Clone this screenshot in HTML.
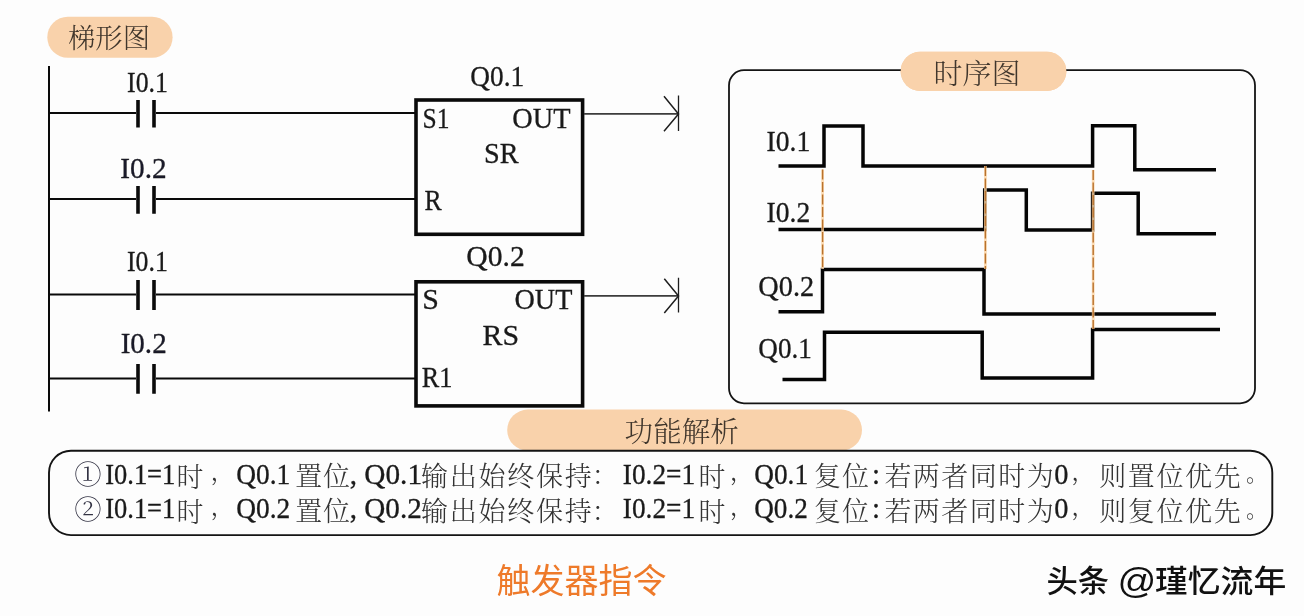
<!DOCTYPE html>
<html lang="zh-CN">
<head>
<meta charset="utf-8">
<title>触发器指令</title>
<style>
html,body{margin:0;padding:0;background:#fdfdfd;}
body{width:1304px;height:616px;overflow:hidden;}
svg{display:block;will-change:transform;}
text{white-space:pre;}
.lt{stroke:#161616;stroke-width:.3px;}
</style>
</head>
<body>
<svg width="1304" height="616" viewBox="0 0 1304 616">
<rect x="0" y="0" width="1304" height="616" fill="#fdfdfd"/>
<g id="pills" fill="#f9d2ab">
<rect x="47.3" y="16.7" width="125.3" height="41.1" rx="20.5"/>
<rect x="900.6" y="51.7" width="165.8" height="39.2" rx="19.6"/>
<rect x="507.2" y="409.6" width="354.8" height="41" rx="20.5"/>
</g>
<g id="ladder" stroke="#0a0a0a" fill="none">
<line x1="49" y1="66" x2="49" y2="411.6" stroke-width="2"/>
<path d="M49,113H136M156,113H415 M49,199H136M156,199H415 M49,294.5H136M156,294.5H415 M49,378.5H136M156,378.5H415" stroke-width="2"/>
<path d="M138,100V127.6M154,100V127.6 M138,186V213.8M154,186V213.8 M138,280V310M154,280V310 M138,364V393.8M154,364V393.8" stroke-width="3.6"/>
<rect x="416" y="100" width="166.6" height="134.3" stroke-width="3.6"/>
<rect x="416" y="281.8" width="166.6" height="124.1" stroke-width="3.6"/>
<g stroke="#3c3c3c" stroke-width="1.7">
<path d="M584,113.9H678.5 M584,295.9H678.5"/>
</g>
<g stroke="#1e1e1e" stroke-width="1.3">
<path d="M678.5,95.5V131 M678.5,277.8V312.6"/>
</g>
<g stroke="#1e1e1e" stroke-width="1.5">
<path d="M664,96.3L678.5,113.9L664,131.3 M664.3,278.7L678.5,295.9L664.3,312.9"/>
</g>
</g>
<g id="timing" fill="none">
<rect x="729" y="70.2" width="526" height="333.1" rx="15" stroke="#141414" stroke-width="1.8"/>
<rect x="900.6" y="51.7" width="165.8" height="39.2" rx="19.6" fill="#f9d2ab"/>
<g stroke="#050505" stroke-width="3.5" stroke-linejoin="miter">
<path d="M778.5,166H824V126H863V166H1092.6V125.7H1134.8V169.8H1216"/>
<path d="M778.5,229.5H984.7V190H1026.3V230H1092.6V193.3H1138.2V233.7H1216"/>
<path d="M778.5,311.8H822.5V269.6H984V314H1216"/>
<path d="M782.5,379.6H824.5V332.2H982.2V378H1092.6V329.6H1220"/>
</g>
<g stroke="#fbd2a0" stroke-width="2.8" stroke-opacity=".8">
<path d="M822.6,169.5V269 M985.4,166V269 M1093.2,170V329"/>
</g>
<g stroke="#b8722e" stroke-width="1.4" stroke-dasharray="10 2.5">
<path d="M822.6,169.5V269 M985.4,166V269 M1093.2,170V329"/>
</g>
</g>
<g id="desc" fill="none">
<rect x="49" y="450.7" width="1223.3" height="84.4" rx="22" stroke="#141414" stroke-width="1.9"/>
</g>
<g id="texts">
<text id="l1" class="lt" x="127.10" y="91.60" textLength="40.83" lengthAdjust="spacingAndGlyphs" font-family='"Liberation Serif", "Noto Serif CJK SC", serif' font-size="29.5" font-weight="400" fill="#1a1a1a">I0.1</text>
<text id="l2" class="lt" x="120.34" y="178.00" textLength="46.39" lengthAdjust="spacingAndGlyphs" font-family='"Liberation Serif", "Noto Serif CJK SC", serif' font-size="29.5" font-weight="400" fill="#1a1a2a">I0.2</text>
<text id="l3" class="lt" x="127.00" y="271.40" textLength="40.77" lengthAdjust="spacingAndGlyphs" font-family='"Liberation Serif", "Noto Serif CJK SC", serif' font-size="29.5" font-weight="400" fill="#1a1a1a">I0.1</text>
<text id="l4" class="lt" x="120.66" y="353.00" textLength="46.02" lengthAdjust="spacingAndGlyphs" font-family='"Liberation Serif", "Noto Serif CJK SC", serif' font-size="29.5" font-weight="400" fill="#1a1a2a">I0.2</text>
<text id="q1" class="lt" x="470.30" y="85.80" textLength="53.83" lengthAdjust="spacingAndGlyphs" font-family='"Liberation Serif", "Noto Serif CJK SC", serif' font-size="29.5" font-weight="400" fill="#1a1a1a">Q0.1</text>
<text id="s1" class="lt" x="422.58" y="128.10" textLength="26.91" lengthAdjust="spacingAndGlyphs" font-family='"Liberation Serif", "Noto Serif CJK SC", serif' font-size="29.5" font-weight="400" fill="#1a1a1a">S1</text>
<text id="o1" class="lt" x="512.37" y="128.00" textLength="58.28" lengthAdjust="spacingAndGlyphs" font-family='"Liberation Serif", "Noto Serif CJK SC", serif' font-size="29.5" font-weight="400" fill="#1a1a1a">OUT</text>
<text id="sr" class="lt" x="484.01" y="162.80" textLength="34.59" lengthAdjust="spacingAndGlyphs" font-family='"Liberation Serif", "Noto Serif CJK SC", serif' font-size="29.5" font-weight="400" fill="#1a1a1a">SR</text>
<text id="r" class="lt" x="424.58" y="209.80" textLength="17.17" lengthAdjust="spacingAndGlyphs" font-family='"Liberation Serif", "Noto Serif CJK SC", serif' font-size="29.5" font-weight="400" fill="#1a1a1a">R</text>
<text id="q2" class="lt" x="466.31" y="265.50" textLength="58.41" lengthAdjust="spacingAndGlyphs" font-family='"Liberation Serif", "Noto Serif CJK SC", serif' font-size="29.5" font-weight="400" fill="#1a1a1a">Q0.2</text>
<text id="s" class="lt" x="422.36" y="308.90" textLength="16.63" lengthAdjust="spacingAndGlyphs" font-family='"Liberation Serif", "Noto Serif CJK SC", serif' font-size="29.5" font-weight="400" fill="#1a1a1a">S</text>
<text id="o2" class="lt" x="514.43" y="309.10" textLength="57.94" lengthAdjust="spacingAndGlyphs" font-family='"Liberation Serif", "Noto Serif CJK SC", serif' font-size="29.5" font-weight="400" fill="#1a1a1a">OUT</text>
<text id="rs" class="lt" x="482.54" y="345.30" textLength="36.52" lengthAdjust="spacingAndGlyphs" font-family='"Liberation Serif", "Noto Serif CJK SC", serif' font-size="29.5" font-weight="400" fill="#1a1a1a">RS</text>
<text id="r1" class="lt" x="421.85" y="387.30" textLength="30.50" lengthAdjust="spacingAndGlyphs" font-family='"Liberation Serif", "Noto Serif CJK SC", serif' font-size="29.5" font-weight="400" fill="#1a1a1a">R1</text>
<text id="t1" class="lt" x="766.60" y="151.20" textLength="43.63" lengthAdjust="spacingAndGlyphs" font-family='"Liberation Serif", "Noto Serif CJK SC", serif' font-size="29.5" font-weight="400" fill="#1a1a1a">I0.1</text>
<text id="t2" class="lt" x="766.60" y="221.90" textLength="43.62" lengthAdjust="spacingAndGlyphs" font-family='"Liberation Serif", "Noto Serif CJK SC", serif' font-size="29.5" font-weight="400" fill="#1a1a1a">I0.2</text>
<text id="t3" class="lt" x="758.36" y="295.70" textLength="55.81" lengthAdjust="spacingAndGlyphs" font-family='"Liberation Serif", "Noto Serif CJK SC", serif' font-size="29.5" font-weight="400" fill="#1a1a1a">Q0.2</text>
<text id="t4" class="lt" x="758.36" y="357.50" textLength="53.46" lengthAdjust="spacingAndGlyphs" font-family='"Liberation Serif", "Noto Serif CJK SC", serif' font-size="29.5" font-weight="400" fill="#1a1a1a">Q0.1</text>
<text id="p1"  x="67.96" y="47.73" textLength="82.12" lengthAdjust="spacingAndGlyphs" font-family='"Liberation Serif", "Noto Serif CJK SC", serif' font-size="27" font-weight="300" fill="#40362c">梯形图</text>
<text id="p2"  x="933.53" y="84.47" textLength="87.07" lengthAdjust="spacingAndGlyphs" font-family='"Liberation Serif", "Noto Serif CJK SC", serif' font-size="28" font-weight="300" fill="#40362c">时序图</text>
<text id="p3"  x="624.62" y="442.17" textLength="114.25" lengthAdjust="spacingAndGlyphs" font-family='"Liberation Serif", "Noto Serif CJK SC", serif' font-size="28" font-weight="300" fill="#40362c">功能解析</text>
<text id="c1"  x="74.32" y="483.92" textLength="27.38" lengthAdjust="spacingAndGlyphs" font-family='"Liberation Serif", "Noto Serif CJK SC", serif' font-size="26.2" font-weight="300" fill="#334">①</text>
<text id="a1" class="lt" x="105.23" y="483.80" textLength="70.07" lengthAdjust="spacingAndGlyphs" font-family='"Liberation Serif", "Noto Serif CJK SC", serif' font-size="29" font-weight="400" fill="#1a1a1a">I0.1=1</text>
<text id="b1"  x="176.62" y="486.58" font-family='"Liberation Serif", "Noto Serif CJK SC", serif' font-size="27" font-weight="300" fill="#333">时</text>
<text id="d1"  x="210.50" y="479.76" font-family='"Liberation Serif", "Noto Serif CJK SC", serif' font-size="24" font-weight="300" fill="#333">，</text>
<text id="e1" class="lt" x="236.21" y="483.80" textLength="54.01" lengthAdjust="spacingAndGlyphs" font-family='"Liberation Serif", "Noto Serif CJK SC", serif' font-size="29" font-weight="400" fill="#1a1a1a">Q0.1</text>
<text id="f1"  x="295.15" y="485.83" textLength="54.90" lengthAdjust="spacing" font-family='"Liberation Serif", "Noto Serif CJK SC", serif' font-size="27" font-weight="300" fill="#333">置位</text>
<text id="g1" class="lt" x="349.80" y="483.80" font-family='"Liberation Serif", "Noto Serif CJK SC", serif' font-size="29" font-weight="400" fill="#1a1a1a">,</text>
<text id="h1" class="lt" x="364.30" y="483.80" textLength="57.73" lengthAdjust="spacingAndGlyphs" font-family='"Liberation Serif", "Noto Serif CJK SC", serif' font-size="29" font-weight="400" fill="#1a1a1a">Q0.1</text>
<text id="i1"  x="420.90" y="485.83" textLength="170.74" lengthAdjust="spacing" font-family='"Liberation Serif", "Noto Serif CJK SC", serif' font-size="27" font-weight="300" fill="#333">输出始终保持</text>
<text id="j1"  x="591.75" y="485.38" font-family='"Liberation Serif", "Noto Serif CJK SC", serif' font-size="27" font-weight="300" fill="#333">：</text>
<text id="k1" class="lt" x="622.82" y="483.80" textLength="72.38" lengthAdjust="spacingAndGlyphs" font-family='"Liberation Serif", "Noto Serif CJK SC", serif' font-size="29" font-weight="400" fill="#1a1a1a">I0.2=1</text>
<text id="m1"  x="698.62" y="486.58" font-family='"Liberation Serif", "Noto Serif CJK SC", serif' font-size="27" font-weight="300" fill="#333">时</text>
<text id="n1"  x="729.70" y="479.76" font-family='"Liberation Serif", "Noto Serif CJK SC", serif' font-size="24" font-weight="300" fill="#333">，</text>
<text id="o1x" class="lt" x="754.20" y="483.80" textLength="53.87" lengthAdjust="spacingAndGlyphs" font-family='"Liberation Serif", "Noto Serif CJK SC", serif' font-size="29" font-weight="400" fill="#1a1a1a">Q0.1</text>
<text id="pp1"  x="814.10" y="485.83" textLength="54.80" lengthAdjust="spacing" font-family='"Liberation Serif", "Noto Serif CJK SC", serif' font-size="27" font-weight="300" fill="#333">复位</text>
<text id="qq1" class="lt" x="872.00" y="483.80" font-family='"Liberation Serif", "Noto Serif CJK SC", serif' font-size="29" font-weight="400" fill="#1a1a1a">:</text>
<text id="rr1"  x="884.40" y="485.83" textLength="169.34" lengthAdjust="spacing" font-family='"Liberation Serif", "Noto Serif CJK SC", serif' font-size="27" font-weight="300" fill="#333">若两者同时为</text>
<text id="ss1" class="lt" x="1054.23" y="483.80" textLength="14.20" lengthAdjust="spacingAndGlyphs" font-family='"Liberation Serif", "Noto Serif CJK SC", serif' font-size="29" font-weight="400" fill="#1a1a1a">0</text>
<text id="tt1"  x="1071.37" y="479.76" font-family='"Liberation Serif", "Noto Serif CJK SC", serif' font-size="24" font-weight="300" fill="#333">，</text>
<text id="uu1"  x="1099.20" y="485.83" textLength="141.56" lengthAdjust="spacing" font-family='"Liberation Serif", "Noto Serif CJK SC", serif' font-size="27" font-weight="300" fill="#333">则置位优先</text>
<text id="vv1"  x="1246.05" y="481.43" font-family='"Liberation Serif", "Noto Serif CJK SC", serif' font-size="22" font-weight="300" fill="#333">。</text>
<text id="c2"  x="74.32" y="519.42" textLength="27.38" lengthAdjust="spacingAndGlyphs" font-family='"Liberation Serif", "Noto Serif CJK SC", serif' font-size="26.2" font-weight="300" fill="#334">②</text>
<text id="a2" class="lt" x="105.23" y="518.30" textLength="70.07" lengthAdjust="spacingAndGlyphs" font-family='"Liberation Serif", "Noto Serif CJK SC", serif' font-size="29" font-weight="400" fill="#1a1a1a">I0.1=1</text>
<text id="b2"  x="176.62" y="522.08" font-family='"Liberation Serif", "Noto Serif CJK SC", serif' font-size="27" font-weight="300" fill="#333">时</text>
<text id="d2"  x="210.50" y="515.26" font-family='"Liberation Serif", "Noto Serif CJK SC", serif' font-size="24" font-weight="300" fill="#333">，</text>
<text id="e2" class="lt" x="236.21" y="518.30" textLength="54.00" lengthAdjust="spacingAndGlyphs" font-family='"Liberation Serif", "Noto Serif CJK SC", serif' font-size="29" font-weight="400" fill="#1a1a1a">Q0.2</text>
<text id="f2"  x="295.15" y="521.33" textLength="54.90" lengthAdjust="spacing" font-family='"Liberation Serif", "Noto Serif CJK SC", serif' font-size="27" font-weight="300" fill="#333">置位</text>
<text id="g2" class="lt" x="349.80" y="518.30" font-family='"Liberation Serif", "Noto Serif CJK SC", serif' font-size="29" font-weight="400" fill="#1a1a1a">,</text>
<text id="h2" class="lt" x="364.30" y="518.30" textLength="57.45" lengthAdjust="spacingAndGlyphs" font-family='"Liberation Serif", "Noto Serif CJK SC", serif' font-size="29" font-weight="400" fill="#1a1a1a">Q0.2</text>
<text id="i2"  x="420.90" y="521.33" textLength="170.74" lengthAdjust="spacing" font-family='"Liberation Serif", "Noto Serif CJK SC", serif' font-size="27" font-weight="300" fill="#333">输出始终保持</text>
<text id="j2"  x="591.75" y="520.88" font-family='"Liberation Serif", "Noto Serif CJK SC", serif' font-size="27" font-weight="300" fill="#333">：</text>
<text id="k2" class="lt" x="622.82" y="518.30" textLength="72.38" lengthAdjust="spacingAndGlyphs" font-family='"Liberation Serif", "Noto Serif CJK SC", serif' font-size="29" font-weight="400" fill="#1a1a1a">I0.2=1</text>
<text id="m2"  x="698.62" y="522.08" font-family='"Liberation Serif", "Noto Serif CJK SC", serif' font-size="27" font-weight="300" fill="#333">时</text>
<text id="n2"  x="729.70" y="515.26" font-family='"Liberation Serif", "Noto Serif CJK SC", serif' font-size="24" font-weight="300" fill="#333">，</text>
<text id="o2x" class="lt" x="754.21" y="518.30" textLength="53.61" lengthAdjust="spacingAndGlyphs" font-family='"Liberation Serif", "Noto Serif CJK SC", serif' font-size="29" font-weight="400" fill="#1a1a1a">Q0.2</text>
<text id="pp2"  x="814.10" y="521.33" textLength="54.80" lengthAdjust="spacing" font-family='"Liberation Serif", "Noto Serif CJK SC", serif' font-size="27" font-weight="300" fill="#333">复位</text>
<text id="qq2" class="lt" x="872.00" y="518.30" font-family='"Liberation Serif", "Noto Serif CJK SC", serif' font-size="29" font-weight="400" fill="#1a1a1a">:</text>
<text id="rr2"  x="884.40" y="521.33" textLength="169.34" lengthAdjust="spacing" font-family='"Liberation Serif", "Noto Serif CJK SC", serif' font-size="27" font-weight="300" fill="#333">若两者同时为</text>
<text id="ss2" class="lt" x="1054.23" y="518.30" textLength="14.20" lengthAdjust="spacingAndGlyphs" font-family='"Liberation Serif", "Noto Serif CJK SC", serif' font-size="29" font-weight="400" fill="#1a1a1a">0</text>
<text id="tt2"  x="1071.37" y="515.26" font-family='"Liberation Serif", "Noto Serif CJK SC", serif' font-size="24" font-weight="300" fill="#333">，</text>
<text id="uu2"  x="1099.20" y="521.33" textLength="141.56" lengthAdjust="spacing" font-family='"Liberation Serif", "Noto Serif CJK SC", serif' font-size="27" font-weight="300" fill="#333">则复位优先</text>
<text id="vv2"  x="1246.05" y="516.93" font-family='"Liberation Serif", "Noto Serif CJK SC", serif' font-size="22" font-weight="300" fill="#333">。</text>
<text id="title"  x="496.59" y="592.51" textLength="169.97" lengthAdjust="spacingAndGlyphs" font-family='"Liberation Sans", "Noto Sans CJK SC", sans-serif' font-size="34" font-weight="400" fill="#ee7a2a">触发器指令</text>
<text id="wm1"  x="1046.42" y="592.39" textLength="62.64" lengthAdjust="spacingAndGlyphs" font-family='"Liberation Sans", "Noto Sans CJK SC", sans-serif' font-size="31" font-weight="500" fill="#111">头条</text>
<text id="wm2"  x="1117.44" y="592.61" textLength="38.83" lengthAdjust="spacingAndGlyphs" font-family='"Liberation Sans", "Noto Sans CJK SC", sans-serif' font-size="34.5" font-weight="400" fill="#111">@</text>
<text id="wm3"  x="1154.98" y="592.14" textLength="131.29" lengthAdjust="spacingAndGlyphs" font-family='"Liberation Sans", "Noto Sans CJK SC", sans-serif' font-size="31" font-weight="500" fill="#111">瑾忆流年</text>
</g>
</svg>
</body>
</html>
